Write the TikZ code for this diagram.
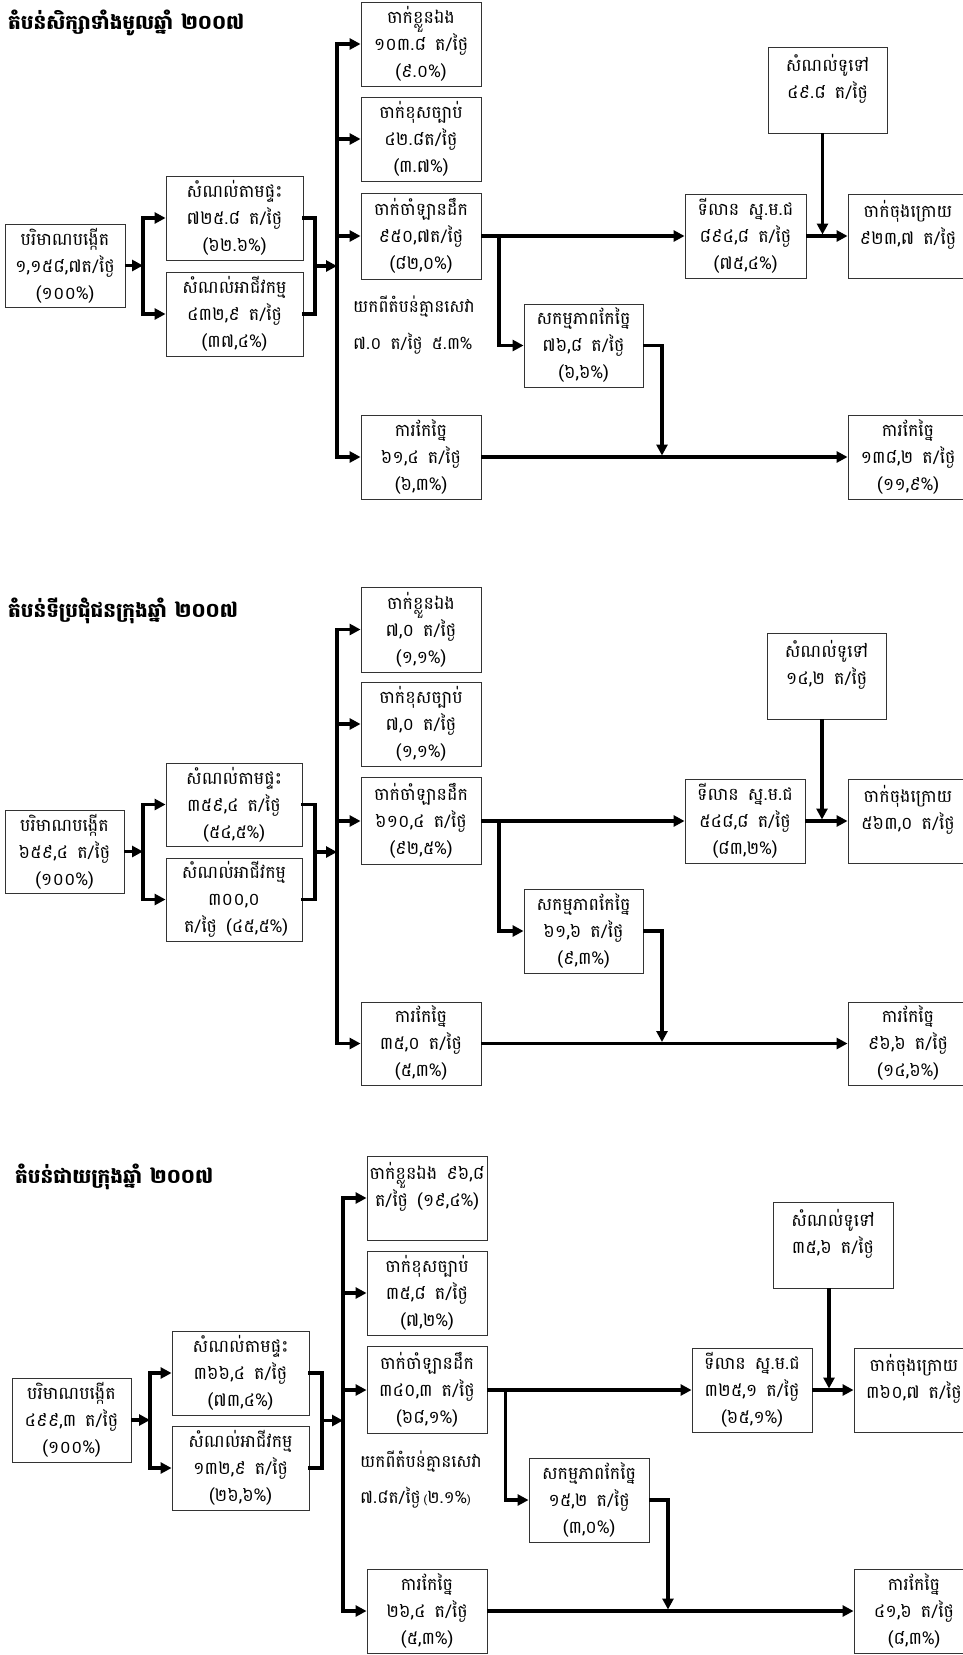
\documentclass[tikz,border=0pt]{standalone}
\usepackage{fontspec}
\newfontfamily\khm[Script=Khmer]{Battambang}
\usetikzlibrary{arrows.meta,calc}
\newcommand\kgap{\hspace{9pt}}
\begin{document}
\begin{tikzpicture}[x=1pt,y=-1pt,
  box/.style={draw=black!80, line width=0.9pt, fill=white, align=center, inner sep=0pt,
    font=\khm\fontsize{17.5}{27}\selectfont, minimum width=120pt, minimum height=84pt},
  bbox/.style={box, minimum width=137pt},
  ln/.style={line width=3.2pt, line cap=rect},
  arr/.style={line width=3.2pt, -{Triangle[length=11pt,width=11pt]}},
  varr/.style={arr, shorten >=1.5pt},
  ttl/.style={font=\khm\bfseries\fontsize{20}{22}\selectfont, anchor=west, inner sep=0pt},
  lbl/.style={font=\khm\fontsize{17}{20}\selectfont, anchor=west, inner sep=0pt}]
\useasboundingbox (0,0) rectangle (963,1655);
\clip (0,0) rectangle (963,1655);

% ================= Section 1 =================
\node[ttl] (t1) at (8,23) {តំបន់សិក្សាទាំងមូលឆ្នាំ\hspace{8pt}២០០៧};
\node[box, minimum height=83pt] (a1) at (65,265.5) {បរិមាណបង្កើត\\១,១៥៨,៧ត/ថ្ងៃ\\(១០០\%)};
\node[bbox] (b11) at (234.5,218) {សំណល់តាមផ្ទះ\\៧២៥.៨\kgap ត/ថ្ងៃ\\(៦២.៦\%)};
\node[bbox] (b12) at (234.5,314) {សំណល់អាជីវកម្ម\\៤៣២,៩\kgap ត/ថ្ងៃ\\(៣៧,៤\%)};
\node[box] (c11) at (421,44) {ចាក់ខ្លួនឯង\\១០៣.៨\kgap ត/ថ្ងៃ\\(៩.០\%)};
\node[box] (c12) at (421,139) {ចាក់ខុសច្បាប់\\៤២.៨ត/ថ្ងៃ\\(៣.៧\%)};
\node[box, minimum height=86pt] (c13) at (421,236) {ចាក់ចាំឡានដឹក\\៩៥០,៧ត/ថ្ងៃ\\(៨២,០\%)};
\node[box] (c15) at (421,457) {ការកែច្នៃ\\៦១,៤\kgap ត/ថ្ងៃ\\(៦,៣\%)};
\node[box, minimum width=119pt, minimum height=83pt] (mm1) at (583.5,345.5) {សកម្មភាពកែច្នៃ\\៧៦,៨\kgap ត/ថ្ងៃ\\(៦,៦\%)};
\node[box, minimum width=121pt] (d1) at (745.5,236) {ទីលាន\kgap ស្ន.ម.ជ\\៨៩៤,៨\kgap ត/ថ្ងៃ\\(៧៥,៤\%)};
\node[box] (e1) at (908,236) {ចាក់ចុងក្រោយ\\៩២៣,៧\kgap ត/ថ្ងៃ\\~};
\node[box, minimum width=119pt, minimum height=86pt] (g1) at (827.5,90) {សំណល់ទូទៅ\\៤៩.៨\kgap ត/ថ្ងៃ\\~};
\node[box] (f1) at (908,457) {ការកែច្នៃ\\១៣៨,២\kgap ត/ថ្ងៃ\\(១១,៩\%)};
\node[lbl] (l11) at (353,307) {យកពីតំបន់គ្មានសេវា};
\node[lbl] (l12) at (353,344) {៧.០\kgap ត/ថ្ងៃ\kgap ៥.៣\%};

\coordinate (j1) at (143,0);
\coordinate (k1) at (315,0);
\coordinate (x1) at (337,0);
\coordinate (p1) at (499,0);
\coordinate (q1) at (662,0);
\draw[arr] (a1.east) -- (a1.east -| j1);
\draw[ln] (b11.west -| j1) -- (b12.west -| j1);
\draw[arr] (b11.west -| j1) -- (b11.west);
\draw[arr] (b12.west -| j1) -- (b12.west);
\draw[ln] (b11.east) -| (b12.east -| k1) -- (b12.east);
\coordinate (m1) at ($(b11.east -| k1)!.5!(b12.east -| k1)$);
\draw[arr] (m1) -- (m1 -| x1);
\draw[ln] (c11.west -| x1) -- (c15.west -| x1);
\draw[arr] (c11.west -| x1) -- (c11.west);
\draw[arr] (c12.west -| x1) -- (c12.west);
\draw[arr] (c13.west -| x1) -- (c13.west);
\draw[arr] (c15.west -| x1) -- (c15.west);
\draw[arr] (c13.east) -- (d1.west);
\draw[arr] (c13.east -| p1) |- (mm1.west);
\draw[varr] (mm1.east) -| (c15.east -| q1);
\draw[arr] (c15.east) -- (f1.west);
\draw[arr] (d1.east) -- (e1.west);
\draw[varr] ([xshift=-5pt]g1.south) -- ([xshift=-5pt]g1.south |- d1.east);

% ================= Section 2 =================
\node[ttl] (t2) at (8,611) {តំបន់ទីប្រជុំជនក្រុងឆ្នាំ\hspace{8pt}២០០៧};
\node[box, minimum width=119pt, minimum height=83pt] (a2) at (64.5,851.5) {បរិមាណបង្កើត\\៦៥៩,៤\kgap ត/ថ្ងៃ\\(១០០\%)};
\node[bbox, minimum width=136pt, minimum height=83pt] (b21) at (234,804.5) {សំណល់តាមផ្ទះ\\៣៥៩,៤\kgap ត/ថ្ងៃ\\(៥៤,៥\%)};
\node[bbox, minimum width=136pt, minimum height=83pt] (b22) at (234,899.5) {សំណល់អាជីវកម្ម\\៣០០,០\\\hspace{4pt}ត/ថ្ងៃ\kgap (៤៥,៥\%)};
\node[box, minimum height=85pt] (c21) at (421,629.5) {ចាក់ខ្លួនឯង\\៧,០\kgap ត/ថ្ងៃ\\(១,១\%)};
\node[box] (c22) at (421,724) {ចាក់ខុសច្បាប់\\៧,០\kgap ត/ថ្ងៃ\\(១,១\%)};
\node[box, minimum height=87pt] (c23) at (421,821) {ចាក់ចាំឡានដឹក\\៦១០,៤\kgap ត/ថ្ងៃ\\(៩២,៥\%)};
\node[box, minimum height=83pt] (c25) at (421,1043.5) {ការកែច្នៃ\\៣៥,០\kgap ត/ថ្ងៃ\\(៥,៣\%)};
\node[box, minimum width=119pt] (mm2) at (583.5,931) {សកម្មភាពកែច្នៃ\\៦១,៦\kgap ត/ថ្ងៃ\\(៩,៣\%)};
\node[box] (d2) at (745,821) {ទីលាន\kgap ស្ន.ម.ជ\\៥៤៨,៨\kgap ត/ថ្ងៃ\\(៨៣,២\%)};
\node[box] (e2) at (908,821) {ចាក់ចុងក្រោយ\\៥៦៣,០\kgap ត/ថ្ងៃ\\~};
\node[box, minimum width=119pt, minimum height=86pt] (g2) at (826.5,676) {សំណល់ទូទៅ\\១៤,២\kgap ត/ថ្ងៃ\\~};
\node[box, minimum height=83pt] (f2) at (908,1043.5) {ការកែច្នៃ\\៩៦,៦\kgap ត/ថ្ងៃ\\(១៤,៦\%)};

\coordinate (j2) at (143,0);
\coordinate (k2) at (315,0);
\coordinate (x2) at (337,0);
\coordinate (p2) at (499,0);
\coordinate (q2) at (662,0);
\draw[arr] (a2.east) -- (a2.east -| j2);
\draw[ln] (b21.west -| j2) -- (b22.west -| j2);
\draw[arr] (b21.west -| j2) -- (b21.west);
\draw[arr] (b22.west -| j2) -- (b22.west);
\draw[ln] (b21.east) -| (b22.east -| k2) -- (b22.east);
\coordinate (m2) at ($(b21.east -| k2)!.5!(b22.east -| k2)$);
\draw[arr] (m2) -- (m2 -| x2);
\draw[ln] (c21.west -| x2) -- (c25.west -| x2);
\draw[arr] (c21.west -| x2) -- (c21.west);
\draw[arr] (c22.west -| x2) -- (c22.west);
\draw[arr] (c23.west -| x2) -- (c23.west);
\draw[arr] (c25.west -| x2) -- (c25.west);
\draw[arr] (c23.east) -- (d2.west);
\draw[arr] (c23.east -| p2) |- (mm2.west);
\draw[varr] (mm2.east) -| (c25.east -| q2);
\draw[arr] (c25.east) -- (f2.west);
\draw[arr] (d2.east) -- (e2.west);
\draw[varr] ([xshift=-4.5pt]g2.south) -- ([xshift=-4.5pt]g2.south |- d2.east);

% ================= Section 3 =================
\node[ttl] (t3) at (15,1177) {តំបន់ជាយក្រុងឆ្នាំ\hspace{8pt}២០០៧};
\node[box, minimum width=119pt] (a3) at (71.5,1420) {បរិមាណបង្កើត\\៤៩៩,៣\kgap ត/ថ្ងៃ\\(១០០\%)};
\node[bbox] (b31) at (240.5,1373) {សំណល់តាមផ្ទះ\\៣៦៦,៤\kgap ត/ថ្ងៃ\\(៧៣,៤\%)};
\node[bbox] (b32) at (240.5,1468) {សំណល់អាជីវកម្ម\\១៣២,៩\kgap ត/ថ្ងៃ\\(២៦,៦\%)};
\node[box] (c31) at (427,1198) {ចាក់ខ្លួនឯង\kgap ៩៦,៨\\ត/ថ្ងៃ\kgap (១៩,៤\%)\\~};
\node[box] (c32) at (427,1293) {ចាក់ខុសច្បាប់\\៣៥,៨\kgap ត/ថ្ងៃ\\(៧,២\%)};
\node[box, minimum height=87pt] (c33) at (427,1390) {ចាក់ចាំឡានដឹក\\៣៤០,៣\kgap ត/ថ្ងៃ\\(៦៨,១\%)};
\node[box] (c35) at (427,1611) {ការកែច្នៃ\\២៦,៤\kgap ត/ថ្ងៃ\\(៥,៣\%)};
\node[box] (mm3) at (589,1500) {សកម្មភាពកែច្នៃ\\១៥,២\kgap ត/ថ្ងៃ\\(៣,០\%)};
\node[box] (d3) at (752,1390) {ទីលាន\kgap ស្ន.ម.ជ\\៣២៥,១\kgap ត/ថ្ងៃ\\(៦៥,១\%)};
\node[box] (e3) at (914,1390) {ចាក់ចុងក្រោយ\\៣៦០,៧\kgap ត/ថ្ងៃ\\~};
\node[box, minimum height=86pt] (g3) at (833,1245) {សំណល់ទូទៅ\\៣៥,៦\kgap ត/ថ្ងៃ\\~};
\node[box] (f3) at (914,1611) {ការកែច្នៃ\\៤១,៦\kgap ត/ថ្ងៃ\\(៨,៣\%)};
\node[lbl] (l31) at (360,1462) {យកពីតំបន់គ្មានសេវា};
\node[lbl] (l32) at (360,1498) {៧.៨ត/ថ្ងៃ\hspace{3pt}{\fontsize{11}{11}\selectfont(}២.១\%{\fontsize{11}{11}\selectfont)}};

\coordinate (j3) at (150,0);
\coordinate (k3) at (322,0);
\coordinate (x3) at (343,0);
\coordinate (p3) at (505.5,0);
\coordinate (q3) at (668,0);
\draw[arr] (a3.east) -- (a3.east -| j3);
\draw[ln] (b31.west -| j3) -- (b32.west -| j3);
\draw[arr] (b31.west -| j3) -- (b31.west);
\draw[arr] (b32.west -| j3) -- (b32.west);
\draw[ln] (b31.east) -| (b32.east -| k3) -- (b32.east);
\coordinate (m3) at ($(b31.east -| k3)!.5!(b32.east -| k3)$);
\draw[arr] (m3) -- (m3 -| x3);
\draw[ln] (c31.west -| x3) -- (c35.west -| x3);
\draw[arr] (c31.west -| x3) -- (c31.west);
\draw[arr] (c32.west -| x3) -- (c32.west);
\draw[arr] (c33.west -| x3) -- (c33.west);
\draw[arr] (c35.west -| x3) -- (c35.west);
\draw[arr] (c33.east) -- (d3.west);
\draw[arr] (c33.east -| p3) |- (mm3.west);
\draw[varr] (mm3.east) -| (c35.east -| q3);
\draw[arr] (c35.east) -- (f3.west);
\draw[arr] (d3.east) -- (e3.west);
\draw[varr] ([xshift=-4pt]g3.south) -- ([xshift=-4pt]g3.south |- d3.east);
\end{tikzpicture}
\end{document}
